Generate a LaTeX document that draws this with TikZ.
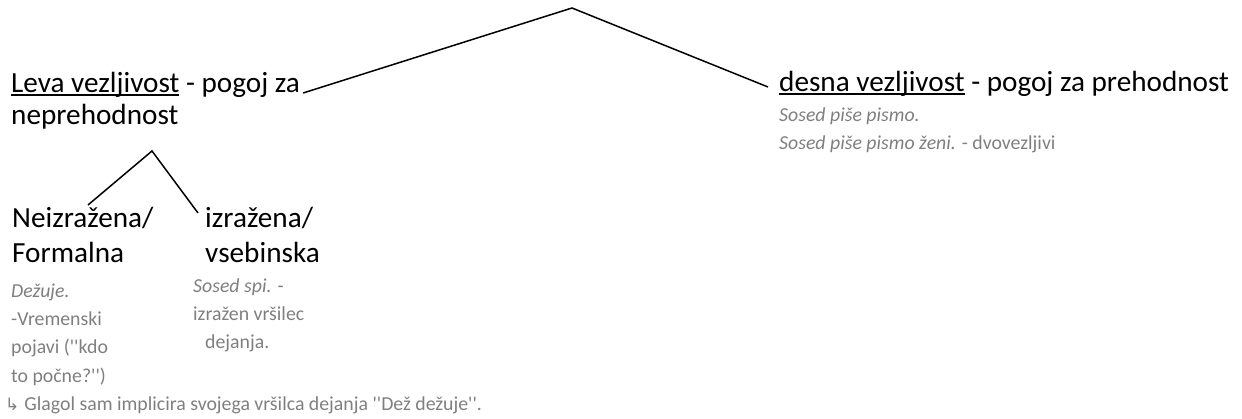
\documentclass[tikz,border=0pt]{standalone}
\usepackage{fontspec}
\newfontfamily\calfont{Carlito}
\newfontfamily\symfont{DejaVu Sans}
\definecolor{notegray}{RGB}{127,127,127}
% underline that cuts through descenders, as in the scan
\newcommand{\undl}[1]{\setbox0\hbox{#1}\rlap{\vrule width\wd0 height -1.4pt depth 3pt}\box0\relax}

\begin{document}
\begin{tikzpicture}[x=1pt,y=-1pt,
    head/.style={inner sep=0pt, anchor=base west, align=left,
      font=\calfont\fontsize{29.2}{32}\selectfont},
    note/.style={inner sep=0pt, anchor=base west, align=left, text=notegray,
      font=\calfont\fontsize{19.8}{28.3}\selectfont},
    branch/.style={line width=1.5pt}]
\useasboundingbox (0,0) rectangle (1242,419);

% first split
\coordinate (root) at (572,8);
\node[head] (leva) at (11,125) {\undl{Leva vezljivost} - pogoj za\\neprehodnost};
\node[head] (desna) at (779,92) {\undl{desna vezljivost} - pogoj za prehodnost};
\node[note] (desnaex) at (779,150)
  {\textit{Sosed piše pismo.}\\\textit{Sosed piše pismo ženi.} - dvovezljivi};
\draw[branch] ([xshift=3pt,yshift=32pt]leva.base east) -- (root)
  -- ([xshift=-11pt,yshift=5pt]desna.base west);

% second split
\coordinate (split) at (152,151);
\node[head] (neizr) at (12,263) {Neizražena/\\[3pt]Formalna};
\node[head] (izr) at (205,263) {izražena/\\[3pt]vsebinska};
\node[note] (neizrex) at (11,382) {\textit{Dežuje.}\\-Vremenski\\pojavi (''kdo\\to počne?'')};
\node[note] (izrex) at (193,349) {\textit{Sosed spi.} -\\izražen vršilec\\\hspace*{12pt}dejanja.};
\node[note] (glagol) at (5,410)
  {{\symfont\fontsize{17}{17}\selectfont ↳}\hspace{5pt}Glagol sam implicira svojega vršilca dejanja ''Dež dežuje''.};
\draw[branch] ([xshift=76pt,yshift=58pt]neizr.base west) -- (split)
  -- ([xshift=-7pt,yshift=50pt]izr.base west);
\end{tikzpicture}
\end{document}
